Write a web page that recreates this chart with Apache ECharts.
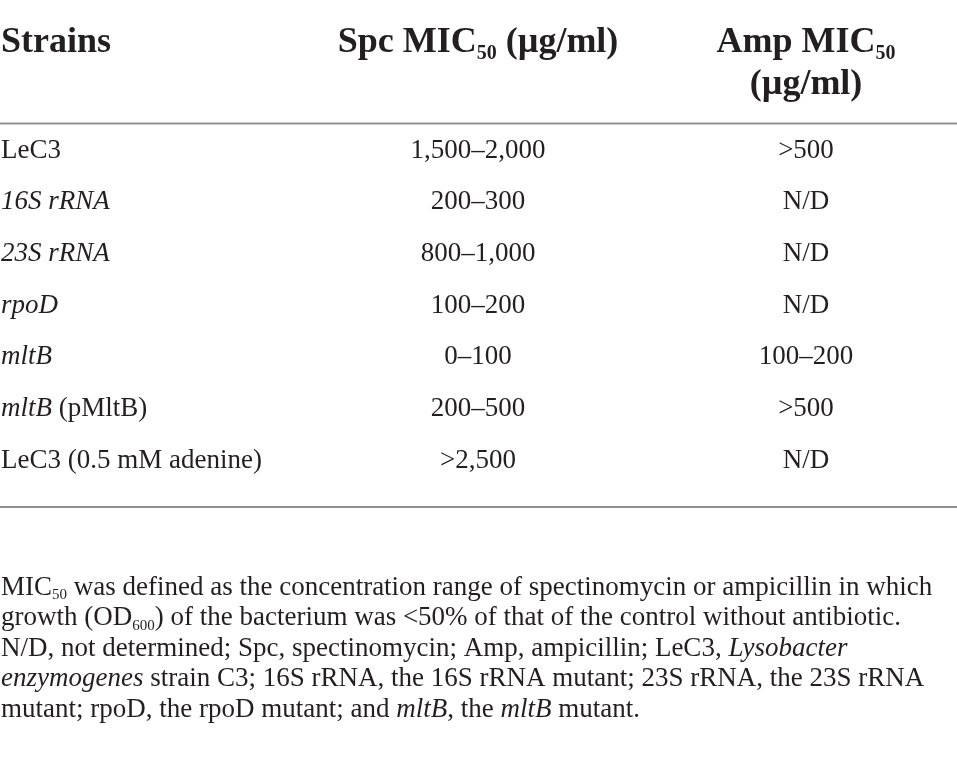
<!DOCTYPE html>
<html lang="en">
<head>
    <meta charset="utf-8" />
    <title>MIC50 table</title>
    <style>
        html,
        body {
            width: 100%;
            margin: 0;
            background: #fff;
        }
    </style>
</head>
<body>
    <div id="main" style="width: 957px;height:760px;"></div>
    <script src="https://cdn.jsdelivr.net/npm/echarts/dist/echarts.min.js"></script>
    <script type="text/javascript">
        // table contents
        var headers = ['Strains', 'Spc MIC{s|50} (µg/ml)', 'Amp MIC{s|50}\n(µg/ml)'];
        var strains = ['LeC3', '16S rRNA', '23S rRNA', 'rpoD', 'mltB', 'mltB (pMltB)', 'LeC3 (0.5 mM adenine)'];
        var italicTerms = ['16S rRNA', '23S rRNA', 'rpoD', 'mltB'];
        var spcMic = ['1,500–2,000', '200–300', '800–1,000', '100–200', '0–100', '200–500', '>2,500'];
        var ampMic = ['>500', 'N/D', 'N/D', 'N/D', '100–200', '>500', 'N/D'];
        var notes = [
            'MIC{s|50} was defined as the concentration range of spectinomycin or ampicillin in which',
            'growth (OD{s|600}) of the bacterium was <50% of that of the control without antibiotic.',
            'N/D, not determined; Spc, spectinomycin; Amp, ampicillin; LeC3, {i|Lysobacter}',
            '{i|enzymogenes} strain C3; 16S rRNA, the 16S rRNA mutant; 23S rRNA, the 23S rRNA',
            'mutant; rpoD, the rpoD mutant; and {i|mltB}, the {i|mltB} mutant.'
        ];

        var FONT = '"Liberation Serif", "DejaVu Serif", serif';
        var INK = '#231f20';
        var RULE = '#8f8f8f';

        var colX = [1, 478, 806];
        var colAlign = ['left', 'center', 'center'];
        var rowTop = 150.5, rowStep = 51.7;

        function txt(size, weight, style, lh, va) {
            var o = {
                fontFamily: FONT, fontSize: size, fontWeight: weight || 'normal',
                fontStyle: style || 'normal', fill: INK, lineHeight: lh
            };
            if (va) o.verticalAlign = va;
            return o;
        }

        function markStrain(name) {
            for (var k = 0; k < italicTerms.length; k++) {
                var t = italicTerms[k];
                if (name.indexOf(t) === 0) {
                    return '{i|' + t + '}' + name.slice(t.length);
                }
            }
            return name;
        }

        var myChart = echarts.init(document.getElementById('main'));
        var els = [];

        // header
        headers.forEach(function (h, c) {
            var st = txt(36, 'bold', 'normal', 42);
            st.text = h;
            st.x = colX[c];
            st.y = 22;
            st.align = colAlign[c];
            st.verticalAlign = 'top';
            st.rich = { s: txt(20, 'bold', 'normal', 20, 'bottom') };
            els.push({ type: 'text', style: st });
        });

        // rules
        [123.5, 507].forEach(function (y) {
            els.push({
                type: 'line',
                shape: { x1: 0, y1: y, x2: 957, y2: y },
                style: { stroke: RULE, lineWidth: 2 }
            });
        });

        // body rows
        var cols = [strains.map(markStrain), spcMic, ampMic];
        cols.forEach(function (vals, c) {
            vals.forEach(function (v, r) {
                var st = txt(27, 'normal', 'normal', 32);
                st.text = v;
                st.x = colX[c];
                st.y = rowTop + r * rowStep;
                st.align = colAlign[c];
                st.verticalAlign = 'middle';
                st.rich = { i: txt(27, 'normal', 'italic', 32) };
                els.push({ type: 'text', style: st });
            });
        });

        // footnote
        var fn = txt(27, 'normal', 'normal', 30.5);
        fn.text = notes.join('\n');
        fn.x = 1;
        fn.y = 572.5;
        fn.align = 'left';
        fn.verticalAlign = 'top';
        fn.rich = {
            i: txt(27, 'normal', 'italic', 30.5),
            s: txt(15, 'normal', 'normal', 14, 'bottom')
        };
        els.push({ type: 'text', style: fn });

        option = {
            backgroundColor: '#fff',
            graphic: { elements: els }
        };

        myChart.setOption(option);
    </script>
</body>
</html>
